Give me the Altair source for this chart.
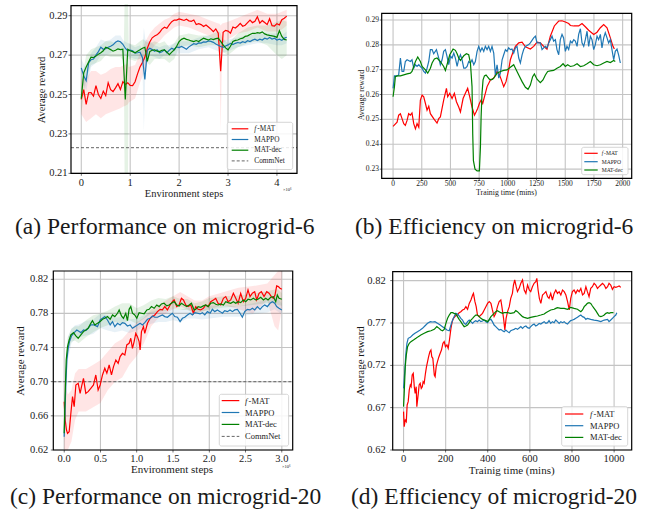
import altair as alt
import pandas as pd
import numpy as np

W, H = 651, 517
SERIF = "Liberation Serif"
RED, BLUE, GREEN = "#ff0000", "#1f77b4", "#008000"
GRID = "#c4c4c4"
INK = "#1a1a1a"

# ---------------- (a) Performance on microgrid-6 (x in 1e6 env steps)
A_STEPS = np.round(np.arange(85) * 0.05, 2).tolist()
A_FMAT = [0.2475,0.2525,0.2450,0.2509,0.2510,0.2492,0.2545,0.2500,0.2480,0.2517,
          0.2495,0.2560,0.2525,0.2515,0.2534,0.2555,0.2525,0.2565,0.2551,0.2560,
          0.2546,0.2545,0.2565,0.2605,0.2640,0.2662,0.2690,0.2735,0.2767,0.2788,
          0.2797,0.2803,0.2815,0.2832,0.2842,0.2836,0.2855,0.2870,0.2878,0.2878,
          0.2884,0.2880,0.2876,0.2882,0.2874,0.2872,0.2878,0.2855,0.2860,0.2855,
          0.2845,0.2853,0.2843,0.2832,0.2819,0.2833,0.2812,0.2618,0.2816,0.2826,
          0.2822,0.2811,0.2843,0.2838,0.2848,0.2861,0.2847,0.2852,0.2865,0.2878,
          0.2865,0.2872,0.2895,0.2862,0.2875,0.2866,0.2855,0.2885,0.2850,0.2848,
          0.2860,0.2853,0.2880,0.2887,0.2898]
A_MAPPO = [0.2635,0.2595,0.2570,0.2660,0.2677,0.2680,0.2700,0.2718,0.2740,0.2730,
           0.2733,0.2740,0.2745,0.2752,0.2765,0.2772,0.2768,0.2755,0.2735,0.2722,
           0.2725,0.2722,0.2710,0.2712,0.2715,0.2688,0.2576,0.2725,0.2735,0.2728,
           0.2720,0.2727,0.2712,0.2717,0.2727,0.2712,0.2725,0.2735,0.2728,0.2742,
           0.2738,0.2744,0.2737,0.2730,0.2742,0.2750,0.2758,0.2755,0.2762,0.2761,
           0.2767,0.2766,0.2772,0.2770,0.2765,0.2757,0.2750,0.2744,0.2740,0.2746,
           0.2752,0.2760,0.2754,0.2760,0.2764,0.2761,0.2768,0.2764,0.2773,0.2769,
           0.2776,0.2781,0.2774,0.2781,0.2777,0.2786,0.2781,0.2790,0.2782,0.2786,
           0.2777,0.2781,0.2775,0.2786,0.2791]
A_MATDEC = [0.2480,0.2610,0.2640,0.2665,0.2690,0.2688,0.2695,0.2705,0.2712,0.2722,
            0.2740,0.2735,0.2728,0.2720,0.2725,0.2732,0.2728,0.2730,0.2475,0.2730,
            0.2722,0.2718,0.2712,0.2720,0.2727,0.2735,0.2740,0.2668,0.2718,0.2725,
            0.2727,0.2720,0.2718,0.2725,0.2727,0.2715,0.2702,0.2715,0.2727,0.2745,
            0.2769,0.2780,0.2786,0.2780,0.2777,0.2772,0.2769,0.2774,0.2769,0.2778,
            0.2786,0.2781,0.2777,0.2783,0.2779,0.2784,0.2786,0.2770,0.2752,0.2737,
            0.2727,0.2745,0.2769,0.2775,0.2777,0.2783,0.2786,0.2795,0.2798,0.2805,
            0.2811,0.2810,0.2814,0.2812,0.2818,0.2808,0.2803,0.2800,0.2798,0.2795,
            0.2790,0.2824,0.2795,0.2780,0.2777]
A_BAND_STEPS = [0,0.1,0.2,0.3,0.4,0.5,0.6,0.7,0.8,0.87,0.885,0.955,0.97,1.1,1.2,1.25,1.28,1.31,1.4,1.5,
                1.6,1.7,1.8,1.9,2.0,2.2,2.4,2.6,2.8,2.82,2.85,2.88,3.0,3.2,3.4,3.6,3.8,4.0,4.1,4.2]
A_FMAT_LO = [0.240,0.236,0.238,0.240,0.238,0.240,0.241,0.242,0.243,0.244,0.244,0.245,0.246,0.248,0.256,0.259,0.262,0.264,0.271,0.275,
             0.277,0.280,0.282,0.284,0.285,0.284,0.282,0.280,0.277,0.275,0.231,0.276,0.278,0.281,0.282,0.284,0.282,0.282,0.283,0.285]
A_FMAT_HI = [0.258,0.258,0.262,0.262,0.260,0.261,0.263,0.264,0.264,0.265,0.265,0.266,0.264,0.265,0.271,0.273,0.275,0.277,0.281,0.284,
             0.286,0.288,0.289,0.291,0.292,0.291,0.290,0.288,0.286,0.286,0.285,0.286,0.287,0.289,0.291,0.293,0.291,0.291,0.292,0.293]
A_MAPPO_LO = [0.258,0.252,0.264,0.266,0.270,0.270,0.271,0.273,0.273,0.270,0.270,0.269,0.269,0.268,0.268,0.265,0.231,0.262,0.270,0.269,
              0.268,0.270,0.270,0.270,0.271,0.271,0.273,0.274,0.272,0.272,0.271,0.271,0.272,0.274,0.275,0.276,0.276,0.275,0.275,0.276]
A_MAPPO_HI = [0.268,0.263,0.271,0.274,0.278,0.277,0.278,0.280,0.280,0.277,0.277,0.276,0.276,0.274,0.275,0.273,0.284,0.278,0.277,0.275,
              0.274,0.275,0.275,0.276,0.277,0.277,0.279,0.280,0.278,0.278,0.278,0.277,0.278,0.279,0.280,0.281,0.281,0.281,0.280,0.282]
A_MATDEC_LO = [0.240,0.258,0.265,0.266,0.267,0.270,0.269,0.269,0.269,0.267,0.21,0.21,0.268,0.267,0.268,0.269,0.268,0.267,0.265,0.268,
               0.268,0.268,0.266,0.268,0.274,0.275,0.274,0.275,0.275,0.275,0.273,0.272,0.270,0.274,0.276,0.277,0.275,0.270,0.268,0.270]
A_MATDEC_HI = [0.256,0.270,0.273,0.274,0.275,0.277,0.277,0.276,0.277,0.276,0.296,0.296,0.276,0.275,0.277,0.278,0.278,0.277,0.276,0.277,
               0.276,0.277,0.274,0.276,0.280,0.281,0.280,0.280,0.282,0.282,0.281,0.279,0.276,0.281,0.284,0.285,0.285,0.287,0.288,0.287]
A_COMMNET = 0.223

# ---------------- (b) Efficiency on microgrid-6 (x in minutes)
B_FMAT_T = [0,35,49,64,78,93,107,122,136,151,165,180,195,209,224,238,253,267,282,296,
            311,325,354,383,398,412,441,465,476,494,514,534,552,572,587,610,630,650,668,688,
            709,723,737,752,767,781,796,819,848,877,906,921,941,964,984,1007,1022,1042,1066,1095,
            1124,1153,1196,1225,1254,1283,1312,1341,1370,1405,1443,1472,1501,1530,1545,1574,1617,1646,1675,1704,
            1748,1777,1806,1835,1864,1893,1916,1928]
B_FMAT = [0.2472,0.2489,0.2517,0.2523,0.2503,0.2483,0.2476,0.2496,0.2523,0.2517,
          0.2526,0.2483,0.2462,0.2483,0.2469,0.2578,0.2598,0.2591,0.2564,0.2537,
          0.2553,0.2523,0.2503,0.2485,0.2503,0.2510,0.2578,0.2625,0.2591,0.2605,
          0.2584,0.2605,0.2571,0.2550,0.2530,0.2584,0.2605,0.2625,0.2591,0.2550,
          0.2517,0.2530,0.2544,0.2564,0.2578,0.2564,0.2591,0.2632,0.2659,0.2666,
          0.2693,0.2686,0.2662,0.2632,0.2652,0.2699,0.2740,0.2767,0.2794,0.2808,
          0.2811,0.2792,0.2783,0.2794,0.2811,0.2808,0.2794,0.2783,0.2835,0.2876,
          0.2896,0.2897,0.2892,0.2886,0.2878,0.2876,0.2876,0.2886,0.2873,0.2859,
          0.2842,0.2851,0.2869,0.2882,0.2869,0.2828,0.2794,0.2783]
B_MAPPO_T = [0,12,35,49,64,78,93,107,122,151,165,180,195,209,224,238,253,267,282,296,
             311,325,340,354,378,398,412,427,441,456,470,485,500,514,529,543,558,572,587,601,
             616,630,645,659,674,688,703,717,732,746,761,775,790,804,819,833,848,862,877,891,
             906,921,935,950,964,979,993,1007,1022,1036,1051,1066,1080,1095,1109,1124,1138,1153,1182,1196,
             1225,1240,1254,1283,1298,1312,1327,1341,1356,1370,1385,1399,1414,1428,1443,1457,1472,1486,1501,1515,
             1530,1545,1559,1574,1588,1603,1617,1632,1646,1661,1675,1690,1704,1719,1733,1748,1762,1777,1791,1806,
             1820,1835,1849,1864,1878,1893,1907,1922,1936,1951,1965,1980]
B_MAPPO = [0.2625,0.2675,0.2675,0.2679,0.2747,0.2693,0.2693,0.2733,0.2740,0.2733,
           0.2740,0.2706,0.2720,0.2713,0.2720,0.2713,0.2706,0.2693,0.2686,0.2706,
           0.2733,0.2781,0.2781,0.2764,0.2781,0.2747,0.2720,0.2740,0.2774,0.2781,
           0.2754,0.2720,0.2754,0.2747,0.2767,0.2747,0.2713,0.2743,0.2760,0.2740,
           0.2706,0.2706,0.2713,0.2733,0.2727,0.2740,0.2720,0.2733,0.2774,0.2794,
           0.2774,0.2788,0.2774,0.2794,0.2781,0.2794,0.2774,0.2794,0.2767,0.2679,
           0.2720,0.2666,0.2686,0.2740,0.2760,0.2781,0.2774,0.2788,0.2781,0.2783,
           0.2767,0.2788,0.2794,0.2747,0.2727,0.2760,0.2781,0.2794,0.2801,0.2808,
           0.2828,0.2835,0.2808,0.2808,0.2781,0.2788,0.2794,0.2788,0.2808,0.2821,
           0.2835,0.2815,0.2821,0.2781,0.2760,0.2821,0.2842,0.2828,0.2774,0.2794,
           0.2781,0.2815,0.2808,0.2821,0.2815,0.2794,0.2842,0.2865,0.2808,0.2794,
           0.2821,0.2855,0.2794,0.2835,0.2821,0.2781,0.2801,0.2835,0.2821,0.2842,
           0.2788,0.2828,0.2849,0.2828,0.2808,0.2821,0.2781,0.2740,0.2774,0.2783,
           0.2760,0.2727]
B_MATDEC_T = [0,12,20,35,64,93,122,151,165,180,195,215,238,253,282,302,325,340,360,383,
              412,441,456,470,494,523,543,558,572,587,601,616,639,659,674,688,694,700,714,732,
              752,761,767,775,784,796,810,825,839,854,868,883,897,906,935,964,993,1022,1051,1066,
              1095,1124,1153,1176,1196,1216,1231,1254,1283,1306,1327,1347,1370,1399,1428,1457,1481,1501,1521,1545,
              1574,1603,1632,1661,1690,1719,1748,1777,1806,1835,1864,1893,1922,1936]
B_MATDEC = [0.2591,0.2632,0.2672,0.2675,0.2675,0.2679,0.2683,0.2686,0.2693,0.2713,
            0.2733,0.2751,0.2733,0.2713,0.2699,0.2686,0.2706,0.2727,0.2743,0.2747,
            0.2733,0.2713,0.2697,0.2720,0.2760,0.2783,0.2778,0.2764,0.2747,0.2737,
            0.2747,0.2756,0.2764,0.2760,0.2727,0.2632,0.2442,0.2334,0.2300,0.2293,
            0.2293,0.2388,0.2510,0.2605,0.2659,0.2675,0.2679,0.2670,0.2662,0.2659,
            0.2662,0.2670,0.2679,0.2686,0.2693,0.2697,0.2699,0.2710,0.2720,0.2706,
            0.2679,0.2652,0.2629,0.2621,0.2638,0.2672,0.2683,0.2662,0.2648,0.2659,
            0.2679,0.2693,0.2695,0.2697,0.2706,0.2713,0.2724,0.2713,0.2720,0.2713,
            0.2716,0.2724,0.2713,0.2716,0.2724,0.2733,0.2720,0.2716,0.2720,0.2727,
            0.2733,0.2729,0.2737,0.2733]

# ---------------- (c) Performance on microgrid-20 (x in 1e6 env steps)
C_FMAT_S = [0,0.014,0.032,0.046,0.069,0.092,0.115,0.138,0.161,0.193,0.22,0.239,0.266,0.298,0.33,0.367,0.404,0.436,0.468,0.496,
            0.528,0.56,0.588,0.62,0.652,0.68,0.712,0.744,0.771,0.803,0.836,0.863,0.895,0.918,0.941,0.964,0.987,1.01,1.033,1.047,
            1.065,1.093,1.111,1.148,1.185,1.217,1.249,1.286,1.322,1.354,1.387,1.423,1.46,1.492,1.515,1.552,1.584,1.616,1.644,1.676,
            1.708,1.745,1.781,1.814,1.846,1.882,1.919,1.951,1.984,2.02,2.057,2.089,2.121,2.158,2.195,2.227,2.259,2.296,2.332,2.365,
            2.397,2.433,2.47,2.502,2.534,2.562,2.594,2.626,2.654,2.686,2.718,2.755,2.792,2.824,2.856,2.883,2.906,2.929,2.952,2.975,3.0]
C_FMAT = [0.6766,0.6552,0.6434,0.6395,0.6415,0.6630,0.6825,0.6708,0.6962,0.6981,
          0.6864,0.6942,0.7040,0.6864,0.6884,0.6923,0.6962,0.7079,0.6903,0.6962,
          0.7079,0.7157,0.7099,0.7196,0.7079,0.7177,0.7255,0.7216,0.7294,0.7333,
          0.7313,0.7431,0.7450,0.7509,0.7391,0.7470,0.7567,0.7528,0.7470,0.7372,
          0.7587,0.7645,0.7567,0.7684,0.7743,0.7763,0.7782,0.7821,0.7848,0.7841,
          0.7880,0.7841,0.7899,0.7938,0.7958,0.7880,0.7899,0.7977,0.7958,0.7899,
          0.7880,0.7899,0.7802,0.7880,0.7848,0.7841,0.7860,0.7899,0.7880,0.7938,
          0.7958,0.7977,0.7919,0.7899,0.7977,0.7997,0.7938,0.7958,0.8036,0.7977,
          0.7919,0.8036,0.7938,0.7977,0.8075,0.7997,0.8036,0.8055,0.7958,0.8036,
          0.8055,0.7997,0.8055,0.8036,0.7997,0.7977,0.8016,0.8122,0.8114,0.8095,
          0.8083]
C_MAPPO_S = [0,0.009,0.023,0.037,0.055,0.073,0.101,0.138,0.174,0.207,0.23,0.266,0.298,0.33,0.367,0.413,0.459,0.496,0.528,0.56,
             0.597,0.634,0.666,0.698,0.735,0.771,0.803,0.836,0.872,0.909,0.941,0.973,1.01,1.047,1.079,1.111,1.148,1.185,1.217,1.249,
             1.286,1.322,1.354,1.387,1.423,1.46,1.492,1.524,1.561,1.598,1.63,1.662,1.699,1.736,1.768,1.8,1.837,1.873,1.905,1.938,
             1.974,2.011,2.043,2.075,2.112,2.149,2.181,2.213,2.25,2.286,2.319,2.351,2.388,2.424,2.456,2.488,2.525,2.562,2.594,2.626,
             2.663,2.7,2.732,2.764,2.801,2.837,2.87,2.902,2.929,2.961,3.0]
C_MAPPO = [0.6356,0.6591,0.6981,0.7255,0.7391,0.7470,0.7536,0.7575,0.7606,0.7587,
           0.7575,0.7606,0.7598,0.7626,0.7665,0.7665,0.7645,0.7723,0.7743,0.7763,
           0.7723,0.7665,0.7704,0.7645,0.7684,0.7665,0.7692,0.7684,0.7653,0.7665,
           0.7626,0.7645,0.7665,0.7684,0.7665,0.7692,0.7731,0.7743,0.7770,0.7755,
           0.7755,0.7770,0.7782,0.7763,0.7755,0.7782,0.7802,0.7763,0.7755,0.7704,
           0.7743,0.7755,0.7782,0.7802,0.7782,0.7809,0.7802,0.7794,0.7809,0.7782,
           0.7821,0.7802,0.7848,0.7821,0.7841,0.7821,0.7802,0.7833,0.7821,0.7841,
           0.7821,0.7841,0.7848,0.7802,0.7755,0.7821,0.7848,0.7841,0.7860,0.7841,
           0.7880,0.7848,0.7880,0.7899,0.7880,0.7919,0.7938,0.7919,0.7880,0.7860,
           0.7841]
C_MATDEC_S = [0,0.014,0.028,0.046,0.069,0.092,0.129,0.161,0.193,0.23,0.266,0.298,0.33,0.367,0.39,0.422,0.459,0.496,0.528,0.56,
              0.597,0.634,0.666,0.698,0.735,0.758,0.79,0.817,0.849,0.872,0.895,0.918,0.941,0.973,1.001,1.033,1.065,1.102,1.139,1.171,
              1.203,1.24,1.276,1.309,1.341,1.377,1.414,1.446,1.478,1.515,1.552,1.584,1.616,1.653,1.69,1.722,1.754,1.791,1.814,1.846,
              1.882,1.919,1.951,1.984,2.02,2.057,2.089,2.121,2.158,2.195,2.227,2.259,2.296,2.332,2.365,2.397,2.433,2.47,2.502,2.534,
              2.571,2.608,2.64,2.672,2.709,2.746,2.778,2.81,2.847,2.883,2.916,2.938,2.961,3.0]
C_MATDEC = [0.6395,0.6864,0.7255,0.7411,0.7489,0.7548,0.7575,0.7536,0.7509,0.7548,
            0.7587,0.7606,0.7626,0.7684,0.7716,0.7665,0.7684,0.7704,0.7731,0.7743,
            0.7763,0.7731,0.7782,0.7763,0.7802,0.7841,0.7770,0.7743,0.7802,0.7716,
            0.7848,0.7880,0.7802,0.7782,0.7743,0.7809,0.7802,0.7794,0.7841,0.7848,
            0.7880,0.7860,0.7899,0.7880,0.7911,0.7919,0.7888,0.7899,0.7919,0.7938,
            0.7899,0.7888,0.7919,0.7899,0.7880,0.7899,0.7919,0.7841,0.7848,0.7880,
            0.7872,0.7888,0.7899,0.7880,0.7919,0.7927,0.7907,0.7899,0.7911,0.7899,
            0.7938,0.7927,0.7919,0.7938,0.7919,0.7938,0.7927,0.7958,0.7938,0.7966,
            0.7958,0.7977,0.7958,0.7966,0.7989,0.7958,0.7977,0.7958,0.7989,0.7997,
            0.7938,0.8016,0.7977,0.7966]
C_BAND_STEPS = [0,0.02,0.05,0.1,0.15,0.2,0.3,0.4,0.5,0.6,0.7,0.8,0.9,1.0,1.1,1.2,1.3,1.4,1.5,1.6,
                1.7,1.8,1.9,2.0,2.2,2.4,2.6,2.8,2.9,2.95,3.0]
C_FMAT_LO = [0.62,0.62,0.62,0.63,0.655,0.665,0.665,0.67,0.675,0.69,0.70,0.705,0.72,0.73,0.745,0.765,0.775,0.78,0.785,0.788,
             0.785,0.78,0.782,0.785,0.79,0.785,0.78,0.795,0.765,0.76,0.785]
C_FMAT_HI = [0.70,0.695,0.685,0.69,0.71,0.715,0.715,0.72,0.725,0.735,0.745,0.75,0.76,0.77,0.775,0.785,0.79,0.795,0.80,0.805,
             0.80,0.795,0.795,0.80,0.805,0.81,0.812,0.815,0.825,0.83,0.83]
C_MAPPO_LO = [0.628,0.665,0.725,0.745,0.750,0.752,0.754,0.756,0.763,0.760,0.758,0.760,0.757,0.760,0.764,0.768,0.770,0.770,0.772,0.770,
              0.774,0.774,0.773,0.774,0.776,0.776,0.779,0.781,0.785,0.782,0.779]
C_MAPPO_HI = [0.645,0.705,0.752,0.762,0.766,0.767,0.771,0.773,0.780,0.778,0.775,0.776,0.773,0.774,0.778,0.782,0.784,0.784,0.786,0.784,
              0.787,0.788,0.787,0.789,0.790,0.788,0.792,0.796,0.800,0.797,0.792]
C_MATDEC_LO = [0.630,0.690,0.735,0.747,0.748,0.745,0.752,0.758,0.763,0.766,0.770,0.768,0.772,0.768,0.774,0.780,0.782,0.783,0.786,0.784,
               0.784,0.780,0.782,0.784,0.787,0.788,0.790,0.792,0.792,0.790,0.789]
C_MATDEC_HI = [0.650,0.715,0.752,0.762,0.765,0.765,0.772,0.778,0.780,0.783,0.788,0.792,0.792,0.786,0.790,0.795,0.798,0.797,0.800,0.797,
               0.797,0.792,0.794,0.798,0.800,0.801,0.803,0.806,0.808,0.808,0.804]
C_COMMNET = 0.70

# ---------------- (d) Efficiency of microgrid-20 (x in minutes)
D_FMAT_T = [0,3,8,13,17,22,27,32,36,41,46,51,55,60,63,70,74,79,84,89,
            93,98,104,109,114,119,125,130,134,139,146,150,155,161,168,174,180,187,193,199,
            206,212,218,225,231,237,244,250,256,264,272,280,288,296,304,312,320,328,332,339,
            345,351,359,367,375,383,391,399,407,415,422,430,438,446,454,462,467,475,481,487,
            494,502,509,517,522,528,535,541,549,557,565,573,581,589,597,604,612,620,628,633,
            639,645,652,660,668,676,684,691,699,707,715,723,731,739,747,755,763,771,779,787,
            794,802,810,818,826,834,842,850,858,866,873,881,889,897,905,913,921,929,937,945,
            953,961,969,976,984,992,1000,1008,1016,1024,1032]
D_FMAT = [0.6653,0.6476,0.6554,0.6535,0.6732,0.6771,0.6909,0.6968,0.6948,0.7086,
          0.7106,0.6948,0.6869,0.6948,0.6712,0.6869,0.6968,0.6987,0.6928,0.6948,
          0.7007,0.6987,0.7106,0.7184,0.7243,0.7302,0.7361,0.7381,0.7302,0.7283,
          0.7086,0.7066,0.7184,0.7243,0.7302,0.7342,0.7381,0.7460,0.7480,0.7420,
          0.7440,0.7401,0.7499,0.7637,0.7716,0.7755,0.7775,0.7794,0.7794,0.7822,
          0.7834,0.7854,0.7862,0.7893,0.7862,0.7932,0.7972,0.8031,0.8050,0.7952,
          0.7893,0.7794,0.7775,0.7794,0.7814,0.7854,0.7893,0.7932,0.7952,0.7932,
          0.7854,0.7775,0.7814,0.7893,0.7952,0.7972,0.7893,0.7755,0.7617,0.7755,
          0.7834,0.7893,0.7991,0.8050,0.8149,0.8208,0.8129,0.8070,0.8109,0.8169,
          0.8208,0.8090,0.8050,0.8149,0.8090,0.8070,0.8129,0.8169,0.8188,0.8228,
          0.8090,0.7991,0.7932,0.8031,0.8050,0.8070,0.8011,0.7991,0.8050,0.7972,
          0.8050,0.8090,0.8050,0.8070,0.8031,0.8090,0.8070,0.8031,0.7952,0.7854,
          0.7991,0.8070,0.8090,0.8050,0.8090,0.8070,0.8109,0.8031,0.8050,0.8129,
          0.8070,0.8011,0.8109,0.8129,0.8169,0.8149,0.8109,0.8129,0.8149,0.8169,
          0.8149,0.8109,0.8129,0.8169,0.8149,0.8098,0.8129,0.8121,0.8129,0.8137,
          0.8121]
D_MAPPO_T = [0,6,11,16,22,32,43,54,66,79,90,101,114,127,138,149,161,174,185,196,
             206,217,225,233,240,248,256,264,272,280,288,296,304,312,320,328,335,343,351,359,
             367,375,383,391,399,407,415,422,430,438,446,454,462,470,478,486,494,502,509,517,
             525,533,541,549,557,565,573,581,589,597,604,612,620,628,636,644,652,660,668,676,
             684,691,699,707,715,723,731,739,747,755,763,771,779,787,794,802,810,818,826,834,
             842,850,858,866,873,889,905,921,937,953,969,976,984,992,1000,1008,1013]
D_MAPPO = [0.6928,0.7145,0.7342,0.7460,0.7519,0.7531,0.7558,0.7578,0.7598,0.7617,
           0.7637,0.7665,0.7696,0.7716,0.7712,0.7716,0.7696,0.7676,0.7657,0.7637,
           0.7617,0.7609,0.7676,0.7735,0.7775,0.7814,0.7806,0.7783,0.7755,0.7735,
           0.7696,0.7684,0.7716,0.7735,0.7716,0.7696,0.7716,0.7728,0.7716,0.7735,
           0.7716,0.7724,0.7735,0.7716,0.7704,0.7735,0.7743,0.7716,0.7676,0.7657,
           0.7637,0.7617,0.7625,0.7609,0.7598,0.7617,0.7598,0.7586,0.7609,0.7617,
           0.7625,0.7637,0.7625,0.7641,0.7657,0.7637,0.7657,0.7665,0.7645,0.7637,
           0.7657,0.7676,0.7688,0.7665,0.7676,0.7696,0.7688,0.7704,0.7716,0.7696,
           0.7704,0.7728,0.7696,0.7716,0.7704,0.7735,0.7716,0.7696,0.7716,0.7704,
           0.7716,0.7696,0.7688,0.7712,0.7728,0.7735,0.7743,0.7755,0.7767,0.7783,
           0.7794,0.7775,0.7767,0.7743,0.7755,0.7743,0.7735,0.7728,0.7716,0.7735,
           0.7743,0.7716,0.7735,0.7755,0.7775,0.7794,0.7822]
D_MATDEC_T = [0,3,8,13,19,27,35,47,59,70,82,98,114,130,146,158,169,177,185,193,
              201,209,217,225,233,240,248,256,264,272,280,288,296,304,312,320,328,335,343,351,
              359,367,375,383,391,399,407,415,422,430,438,446,454,462,470,478,494,509,525,533,
              541,549,557,565,573,589,604,620,636,652,668,676,684,699,715,723,731,747,763,779,
              787,794,810,826,842,850,858,866,873,881,889,897,905,913,921,929,937,945,953,961,
              969,976,984,997]
D_MATDEC = [0.6712,0.6869,0.7184,0.7322,0.7420,0.7460,0.7480,0.7499,0.7519,0.7539,
            0.7558,0.7578,0.7598,0.7609,0.7625,0.7657,0.7637,0.7617,0.7609,0.7625,
            0.7696,0.7755,0.7794,0.7822,0.7822,0.7814,0.7806,0.7775,0.7743,0.7716,
            0.7684,0.7657,0.7665,0.7676,0.7704,0.7735,0.7755,0.7775,0.7794,0.7794,
            0.7775,0.7755,0.7743,0.7735,0.7728,0.7716,0.7743,0.7775,0.7794,0.7814,
            0.7834,0.7846,0.7834,0.7822,0.7814,0.7822,0.7822,0.7814,0.7822,0.7846,
            0.7834,0.7814,0.7794,0.7775,0.7767,0.7755,0.7767,0.7775,0.7783,0.7794,
            0.7806,0.7822,0.7834,0.7854,0.7862,0.7873,0.7881,0.7873,0.7873,0.7862,
            0.7873,0.7885,0.7873,0.7862,0.7834,0.7854,0.7893,0.7913,0.7932,0.7940,
            0.7932,0.7901,0.7873,0.7846,0.7814,0.7783,0.7775,0.7783,0.7794,0.7814,
            0.7822,0.7814,0.7822,0.7822]

CAPTIONS = ["(a) Performance on microgrid-6", "(b) Efficiency on microgrid-6",
            "(c) Performance on microgrid-20", "(d) Efficiency of microgrid-20"]

DUMMY = pd.DataFrame({"d": [0]})


def vtext(txt, x, y, size, style="normal", align="left", color=INK, angle=0):
    return alt.Chart(DUMMY).mark_text(font=SERIF, fontSize=size, fontStyle=style, align=align,
                                      baseline="middle", color=color, angle=angle).encode(
        x=alt.value(x), y=alt.value(y), text=alt.value(txt))


def make_panel(P, series, bands, commnet):
    xs = alt.Scale(domain=P["xdom"], range=[P["left"], P["right"]], nice=False, zero=False)
    ys = alt.Scale(domain=P["ydom"], range=[P["bottom"], P["top"]], nice=False, zero=False)
    X = lambda f: alt.X(f, scale=xs, axis=None)
    Y = lambda f: alt.Y(f, scale=ys, axis=None)
    layers = []
    vg = pd.DataFrame({"gx": P["xticks"], "lab": P["xlabels"], "y0": P["ydom"][0], "y1": P["ydom"][1]})
    hg = pd.DataFrame({"gy": P["yticks"], "lab": P["ylabels"], "x0": P["xdom"][0], "x1": P["xdom"][1]})
    # grid
    layers.append(alt.Chart(vg).mark_rule(color=GRID, strokeWidth=1.1).encode(
        x=X("gx:Q"), y=Y("y0:Q"), y2="y1:Q"))
    layers.append(alt.Chart(hg).mark_rule(color=GRID, strokeWidth=1.1).encode(
        y=Y("gy:Q"), x=X("x0:Q"), x2="x1:Q"))
    # ticks (outward)
    t = P["tick"]
    layers.append(alt.Chart(vg).mark_tick(orient="vertical", size=t, thickness=0.8, color="black",
                                          yOffset=t / 2).encode(x=X("gx:Q"), y=Y("y0:Q")))
    layers.append(alt.Chart(hg).mark_tick(orient="horizontal", size=t, thickness=0.8, color="black",
                                          xOffset=-t / 2).encode(y=Y("gy:Q"), x=X("x0:Q")))
    # tick labels
    layers.append(alt.Chart(vg).mark_text(font=SERIF, fontSize=P["lfs"], color=INK, align="center",
                                          baseline="middle", dy=P["xdy"]).encode(
        x=X("gx:Q"), y=Y("y0:Q"), text="lab:N"))
    layers.append(alt.Chart(hg).mark_text(font=SERIF, fontSize=P["lfs"], color=INK, align="right",
                                          baseline="middle", dx=P["ydx"]).encode(
        y=Y("gy:Q"), x=X("x0:Q"), text="lab:N"))
    for bx, lo, hi, col in bands:
        df = pd.DataFrame({"x": bx, "lo": lo, "hi": hi})
        layers.append(alt.Chart(df).mark_area(color=col, opacity=0.10, clip=True).encode(
            x=X("x:Q"), y=Y("lo:Q"), y2="hi:Q"))
    if commnet is not None:
        cdf = pd.DataFrame({"x0": [P["xdom"][0]], "x1": [P["xdom"][1]], "y": [commnet]})
        layers.append(alt.Chart(cdf).mark_rule(color="#555555", strokeWidth=0.9, strokeDash=[3, 2]).encode(
            x=X("x0:Q"), x2="x1:Q", y=Y("y:Q")))
    for sx, sy, col in series:
        df = pd.DataFrame({"x": sx, "y": sy})
        layers.append(alt.Chart(df).mark_line(color=col, strokeWidth=1.2, clip=True).encode(
            x=X("x:Q"), y=Y("y:Q")))
    fr = pd.DataFrame({"x0": [P["xdom"][0]], "x1": [P["xdom"][1]], "y0": [P["ydom"][0]], "y1": [P["ydom"][1]]})
    layers.append(alt.Chart(fr).mark_rect(fillOpacity=0, stroke="black", strokeWidth=1.2).encode(
        x=X("x0:Q"), x2="x1:Q", y=Y("y0:Q"), y2="y1:Q"))
    out = alt.layer(*layers)
    titles = [vtext(P["xtitle"], P["xt"][0], P["xt"][1], P["xtfs"], align="center"),
              vtext(P["ytitle"], P["yt"][0], P["yt"][1], P["ytfs"], align="center", angle=270)]
    return out, titles


def make_legend(box, rows, fs, lx0, lx1, tx):
    out = [alt.Chart(DUMMY).mark_rect(fill="white", fillOpacity=0.85, stroke="#cccccc", strokeWidth=0.8,
                                      cornerRadius=2).encode(
        x=alt.value(box[0]), x2=alt.value(box[2]), y=alt.value(box[1]), y2=alt.value(box[3]))]
    for label, col, dashed, y in rows:
        if dashed:
            out.append(alt.Chart(DUMMY).mark_rule(color="#555555", strokeWidth=0.9, strokeDash=[3, 2]).encode(
                x=alt.value(lx0), x2=alt.value(lx1), y=alt.value(y)))
        else:
            out.append(alt.Chart(DUMMY).mark_rule(color=col, strokeWidth=1.2).encode(
                x=alt.value(lx0), x2=alt.value(lx1), y=alt.value(y)))
        if label == "f-MAT":
            out.append(vtext("f", tx, y, fs, style="italic"))
            out.append(vtext("-MAT", tx + 0.42 * fs, y, fs))
        else:
            out.append(vtext(label, tx, y, fs))
    return out


PA = dict(xdom=[-0.21, 4.41], ydom=[0.21, 0.2951], left=71, right=297, top=5.7, bottom=173.3,
          xticks=[0, 1, 2, 3, 4], xlabels=["0", "1", "2", "3", "4"],
          yticks=[0.21, 0.23, 0.25, 0.27, 0.29], ylabels=["0.21", "0.23", "0.25", "0.27", "0.29"],
          tick=2.5, lfs=10.5, xdy=9.6, ydx=-3.5,
          xtitle="Environment steps", xtfs=10.5, xt=(184, 193.5),
          ytitle="Average reward", ytfs=10.5, yt=(41.7, 90))
PB = dict(xdom=[-99, 2079], ydom=[0.2263, 0.2927], left=381.7, right=631.7, top=13.3, bottom=178.3,
          xticks=[0, 250, 500, 750, 1000, 1250, 1500, 1750, 2000],
          xlabels=["0", "250", "500", "750", "1000", "1250", "1500", "1750", "2000"],
          yticks=[0.23, 0.24, 0.25, 0.26, 0.27, 0.28, 0.29],
          ylabels=["0.23", "0.24", "0.25", "0.26", "0.27", "0.28", "0.29"],
          tick=2, lfs=7.5, xdy=5.2, ydx=-2.8,
          xtitle="Trainig time (mins)", xtfs=7.8, xt=(506.5, 192.8),
          ytitle="Average reward", ytfs=8, yt=(361.7, 95))
PC = dict(xdom=[-0.15, 3.15], ydom=[0.62, 0.8297], left=53.3, right=292.7, top=271, bottom=450,
          xticks=[0, 0.5, 1.0, 1.5, 2.0, 2.5, 3.0], xlabels=["0.0", "0.5", "1.0", "1.5", "2.0", "2.5", "3.0"],
          yticks=[0.62, 0.66, 0.70, 0.74, 0.78, 0.82], ylabels=["0.62", "0.66", "0.70", "0.74", "0.78", "0.82"],
          tick=2.5, lfs=10.5, xdy=9.2, ydx=-5,
          xtitle="Environment steps", xtfs=11, xt=(172, 470),
          ytitle="Average reward", ytfs=11, yt=(20.7, 361))
PD = dict(xdom=[-51.6, 1083.6], ydom=[0.62, 0.8306], left=392.7, right=631.7, top=271.7, bottom=450,
          xticks=[0, 200, 400, 600, 800, 1000], xlabels=["0", "200", "400", "600", "800", "1000"],
          yticks=[0.62, 0.67, 0.72, 0.77, 0.82], ylabels=["0.62", "0.67", "0.72", "0.77", "0.82"],
          tick=2.5, lfs=10.5, xdy=9.2, ydx=-7,
          xtitle="Trainig time (mins)", xtfs=11, xt=(511.7, 470.7),
          ytitle="Average reward", ytfs=11, yt=(360.5, 361))

panel_a, tit_a = make_panel(PA,
                     [(A_STEPS, A_FMAT, RED), (A_STEPS, A_MAPPO, BLUE), (A_STEPS, A_MATDEC, GREEN)],
                     [(A_BAND_STEPS, A_FMAT_LO, A_FMAT_HI, RED), (A_BAND_STEPS, A_MAPPO_LO, A_MAPPO_HI, BLUE),
                      (A_BAND_STEPS, A_MATDEC_LO, A_MATDEC_HI, GREEN)],
                     A_COMMNET)
panel_b, tit_b = make_panel(PB,
                     [(B_FMAT_T, B_FMAT, RED), (B_MAPPO_T, B_MAPPO, BLUE), (B_MATDEC_T, B_MATDEC, GREEN)],
                     [], None)
panel_c, tit_c = make_panel(PC,
                     [(C_FMAT_S, C_FMAT, RED), (C_MAPPO_S, C_MAPPO, BLUE), (C_MATDEC_S, C_MATDEC, GREEN)],
                     [(C_BAND_STEPS, C_FMAT_LO, C_FMAT_HI, RED), (C_BAND_STEPS, C_MAPPO_LO, C_MAPPO_HI, BLUE),
                      (C_BAND_STEPS, C_MATDEC_LO, C_MATDEC_HI, GREEN)],
                     C_COMMNET)
panel_d, tit_d = make_panel(PD,
                     [(D_FMAT_T, D_FMAT, RED), (D_MAPPO_T, D_MAPPO, BLUE), (D_MATDEC_T, D_MATDEC, GREEN)],
                     [], None)

extras = tit_a + tit_b + tit_c + tit_d
extras += make_legend((227.3, 122.3, 292.7, 169.5),
                      [("f-MAT", RED, False, 128.8), ("MAPPO", BLUE, False, 139.5),
                       ("MAT-dec", GREEN, False, 150.2), ("CommNet", None, True, 160.9)],
                      7.3, 231.7, 248.3, 254.3)
extras += make_legend((581.7, 147.3, 628.0, 174.7),
                      [("f-MAT", RED, False, 153.3), ("MAPPO", BLUE, False, 161.7), ("MAT-dec", GREEN, False, 170.0)],
                      5.6, 584.3, 597.7, 601.7)
extras += make_legend((219.3, 394.3, 288.6, 446.0),
                      [("f-MAT", RED, False, 400.6), ("MAPPO", BLUE, False, 412.5),
                       ("MAT-dec", GREEN, False, 424.4), ("CommNet", None, True, 436.4)],
                      8.5, 221.7, 239.3, 245.0)
extras += make_legend((561.7, 406.7, 627.7, 446.0),
                      [("f-MAT", RED, False, 414.0), ("MAPPO", BLUE, False, 425.7), ("MAT-dec", GREEN, False, 437.4)],
                      8.5, 565.0, 583.3, 590.0)
extras.append(vtext("×10⁶", 283, 190, 4.5))
extras.append(vtext("×10⁶", 282, 467, 4.5))
extras.append(vtext(CAPTIONS[0], 15, 227, 23.5))
extras.append(vtext(CAPTIONS[1], 355, 227, 23.5))
extras.append(vtext(CAPTIONS[2], 10, 497, 23.5))
extras.append(vtext(CAPTIONS[3], 351, 497, 23.5))

chart = alt.layer(panel_a, panel_b, panel_c, panel_d, *extras).resolve_scale(
    x="independent", y="independent").properties(
    width=W, height=H, autosize=alt.AutoSizeParams(type="none"), padding=0,
    background="white").configure_view(strokeWidth=0)

chart.save("out.html", embed_options={"renderer": "svg", "actions": False})
